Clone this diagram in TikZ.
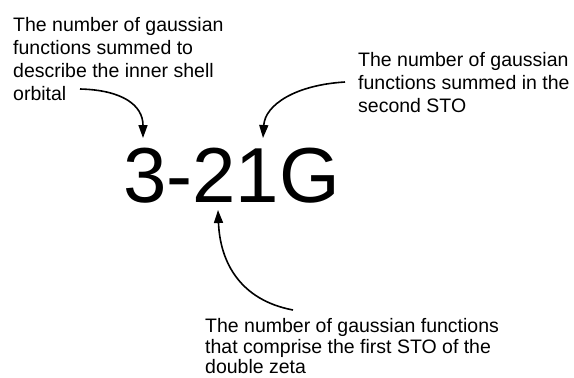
\documentclass[tikz,border=0pt]{standalone}
\usepackage{fontspec}
\setmainfont{Liberation Sans}
\usetikzlibrary{arrows.meta}

\begin{document}
\begin{tikzpicture}[x=1pt,y=-1pt]
  \tikzstyle{labelStyle}=[inner sep=0pt, align=left, anchor=north west, font=\fontsize{19.5}{23}\selectfont]
  \tikzstyle{basisStyle}=[inner sep=0pt, anchor=base west, font=\fontsize{78}{80}\selectfont]
  \tikzstyle{pointer}=[line width=1.6pt, -{Triangle[length=13pt,width=9pt]}]

  \useasboundingbox (0,0) rectangle (574,378);

  \begin{scope}
   \node[basisStyle](basis) at (123,202) {3-21G};

   \node[labelStyle](inner) at (13,17) {The number of gaussian\\functions summed to\\describe the inner shell\\orbital};
   \node[labelStyle](second) at (358,52) {The number of gaussian\\functions summed in the\\second STO};
   \node[labelStyle, font=\fontsize{19.5}{20.5}\selectfont](first) at (205,318.5) {The number of gaussian functions\\that comprise the first STO of the\\double zeta};

   % arrow ends
   \coordinate (innerEnd) at (80,89);
   \coordinate (secondEnd) at (345,82);
   \coordinate (firstEnd) at (293,310);
   \coordinate (three) at (143,138);
   \coordinate (one) at (263,138);
   \coordinate (two) at (218,210);

   \draw[pointer] (innerEnd) .. controls (122,90) and (143,105) .. (three);
   \draw[pointer] (secondEnd) .. controls (295,85) and (265,105) .. (one);
   \draw[pointer] (firstEnd) .. controls (240,300) and (220,262) .. (two);
  \end{scope}
\end{tikzpicture}
\end{document}
